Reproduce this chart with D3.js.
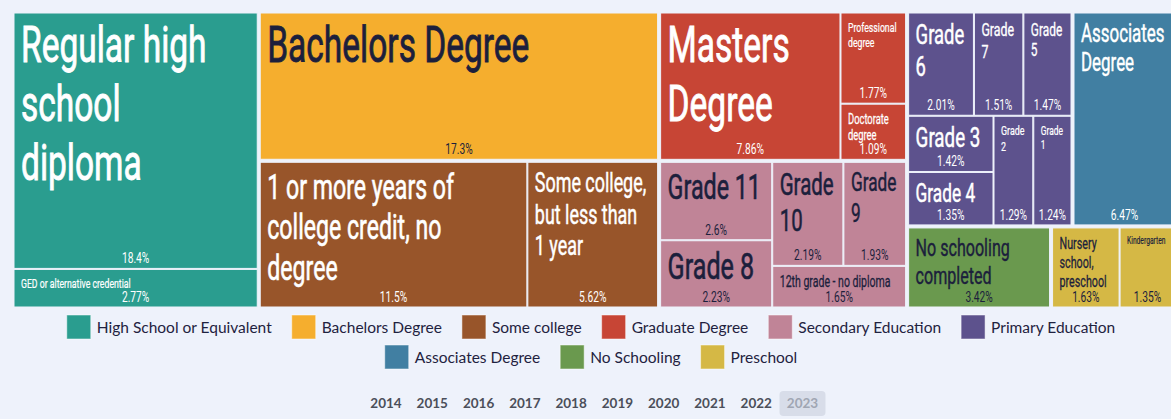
<!DOCTYPE html>
<html>
<head>
<meta charset="utf-8">
<script src="https://cdn.jsdelivr.net/npm/d3@7"></script>
<style>
  html, body { margin: 0; padding: 0; background: #eef2fb; overflow: hidden; }
  svg { display: block; }
</style>
</head>
<body>
<svg id="chart" width="1190" height="419"></svg>
<script>
// Educational attainment, share of population (%), 2023
const groupNames = [
  "High School or Equivalent", "Bachelors Degree", "Some college",
  "Graduate Degree", "Secondary Education", "Primary Education",
  "Associates Degree", "No Schooling", "Preschool"
];
const groupColors = [
  "#2a9d8f", "#f5ae2e", "#98552a",
  "#c74535", "#c08497", "#5d528d",
  "#417fa2", "#6a994e", "#d5b845"
];
const darkTextGroups = ["Bachelors Degree", "Secondary Education", "No Schooling", "Preschool"];

const leafNames = [
  "Regular high school diploma", "GED or alternative credential",
  "Bachelors Degree",
  "1 or more years of college credit, no degree", "Some college, but less than 1 year",
  "Masters Degree", "Professional degree", "Doctorate degree",
  "Grade 11", "Grade 8", "Grade 10", "Grade 9", "12th grade - no diploma",
  "Grade 6", "Grade 7", "Grade 5", "Grade 3", "Grade 4", "Grade 2", "Grade 1",
  "Associates Degree",
  "No schooling completed",
  "Nursery school, preschool", "Kindergarten"
];
const leafGroups = [
  "High School or Equivalent", "High School or Equivalent",
  "Bachelors Degree",
  "Some college", "Some college",
  "Graduate Degree", "Graduate Degree", "Graduate Degree",
  "Secondary Education", "Secondary Education", "Secondary Education", "Secondary Education", "Secondary Education",
  "Primary Education", "Primary Education", "Primary Education", "Primary Education", "Primary Education", "Primary Education", "Primary Education",
  "Associates Degree",
  "No Schooling",
  "Preschool", "Preschool"
];
const leafValues = [
  18.4, 2.77,
  17.3,
  11.5, 5.62,
  7.86, 1.77, 1.09,
  2.6, 2.23, 2.19, 1.93, 1.65,
  2.01, 1.51, 1.47, 1.42, 1.35, 1.29, 1.24,
  6.47,
  3.42,
  1.63, 1.35
];
const years = ["2014", "2015", "2016", "2017", "2018", "2019", "2020", "2021", "2022", "2023"];
const selectedYear = "2023";

// ---- layout constants ----
const BG = "#eef2fb";
const DARK = "#1c1f3c";
const LIGHT = "#ffffff";
const MAP = { x: 14, y: 13, w: 1161, h: 294 };
const LABEL_FONT = "Roboto, 'Liberation Sans', sans-serif";
const SQUEEZE = 0.67;         // horizontal condensing of the label face
const PAD = 7, TOP_PAD = 8, VALUE_SPACE = 14, LH = 1.18, MAX_FS = 50;
const VALUE_FS = 14, VALUE_SQUEEZE = 0.73;

const svg = d3.select("#chart");
const color = d3.scaleOrdinal(groupNames, groupColors);

// hierarchy: root -> group -> leaf
const rows = leafNames.map((n, i) => ({ name: n, group: leafGroups[i], value: leafValues[i] }));
const nested = {
  name: "root",
  children: groupNames.map(g => ({
    name: g,
    children: rows.filter(r => r.group === g)
  }))
};
const root = d3.hierarchy(nested)
  .sum(d => d.value || 0)
  .sort((a, b) => b.value - a.value);

d3.treemap()
  .tile(d3.treemapSquarify)
  .size([MAP.w, MAP.h])
  .paddingInner(d => d.depth === 0 ? 3 : 1)
  .round(false)(root);

const map = svg.append("g").attr("transform", `translate(${MAP.x},${MAP.y})`);

// measuring helper for the condensed label face
const measurer = svg.append("text")
  .attr("font-family", LABEL_FONT)
  .attr("font-size", 100)
  .attr("visibility", "hidden");
function textWidth(str, fs) {
  measurer.text(str);
  return measurer.node().getComputedTextLength() * fs / 100 * SQUEEZE;
}
function wrapWords(words, fs, maxW) {
  const lines = [];
  let cur = "";
  for (const w of words) {
    if (textWidth(w, fs) > maxW) return null;
    const trial = cur ? cur + " " + w : w;
    if (textWidth(trial, fs) <= maxW) cur = trial;
    else { lines.push(cur); cur = w; }
  }
  if (cur) lines.push(cur);
  return lines;
}
// largest font size whose word-wrapped lines fit the cell
function fitLabel(name, w, h) {
  const words = name.split(/\s+/);
  const availW = w * 0.97 - 2 * PAD;
  const availH = h - TOP_PAD - VALUE_SPACE;
  for (let fs = MAX_FS; fs >= 5; fs -= 0.25) {
    const lines = wrapWords(words, fs, availW);
    if (!lines) continue;
    if (lines.length * fs * LH <= availH) return { fs, lines };
  }
  return { fs: 5, lines: [name] };
}

const leaves = root.leaves();
const cell = map.selectAll("g.cell")
  .data(leaves)
  .join("g")
  .attr("class", "cell");

cell.append("rect")
  .attr("x", d => d.x0)
  .attr("y", d => d.y0)
  .attr("width", d => d.x1 - d.x0)
  .attr("height", d => d.y1 - d.y0)
  .attr("fill", d => color(d.data.group))
  .attr("stroke", BG)
  .attr("stroke-width", 1);

const fmt = v => `${v}%`;

cell.each(function (d) {
  const g = d3.select(this);
  const w = d.x1 - d.x0, h = d.y1 - d.y0;
  const txtColor = darkTextGroups.includes(d.data.group) ? DARK : LIGHT;
  const fit = fitLabel(d.data.name, w, h);

  const nameG = g.append("g")
    .attr("transform", `translate(${d.x0 + PAD},${d.y0 + TOP_PAD + fit.fs * 0.82}) scale(${SQUEEZE},1)`);
  nameG.selectAll("text")
    .data(fit.lines)
    .join("text")
    .attr("x", 0)
    .attr("y", (l, i) => i * fit.fs * LH)
    .attr("font-family", LABEL_FONT)
    .attr("font-size", fit.fs)
    .attr("fill", txtColor)
    .attr("stroke", txtColor)
    .attr("stroke-width", Math.min(0.9, fit.fs * 0.018))
    .text(l => l);

  g.append("g")
    .attr("transform", `translate(${(d.x0 + d.x1) / 2},${d.y1 - 5}) scale(${VALUE_SQUEEZE},1)`)
    .append("text")
    .attr("text-anchor", "middle")
    .attr("font-family", LABEL_FONT)
    .attr("font-size", VALUE_FS)
    .attr("fill", txtColor)
    .text(fmt(d.data.value));
});

// ---- legend ----
const LEG_FONT = "Lato, 'Noto Sans', sans-serif";
const LEG_FS = 15.5, SW = 24, SGAP = 6, IGAP = 20, LEG_MAX = 1100, LEG_CX = 591;
const legMeasure = svg.append("text")
  .attr("font-family", LEG_FONT).attr("font-size", LEG_FS).attr("visibility", "hidden");
const items = groupNames.map(n => {
  legMeasure.text(n);
  return { name: n, tw: legMeasure.node().getComputedTextLength() };
});
const legRows = [];
let rowItems = [], rowW = 0;
items.forEach(it => {
  const iw = SW + SGAP + it.tw;
  const add = rowItems.length ? IGAP + iw : iw;
  if (rowW + add > LEG_MAX && rowItems.length) {
    legRows.push({ items: rowItems, w: rowW });
    rowItems = []; rowW = 0;
  }
  it.off = rowItems.length ? rowW + IGAP : 0;
  rowW = it.off + iw;
  rowItems.push(it);
});
legRows.push({ items: rowItems, w: rowW });

const legend = svg.append("g");
legRows.forEach((r, ri) => {
  const x0 = LEG_CX - r.w / 2;
  const yTop = 315 + ri * 30;
  const rg = legend.append("g").attr("transform", `translate(${x0},${yTop})`);
  const it = rg.selectAll("g").data(r.items).join("g")
    .attr("transform", d => `translate(${d.off},0)`);
  it.append("rect")
    .attr("width", SW).attr("height", SW)
    .attr("fill", d => color(d.name))
    .attr("stroke", "rgba(255,255,255,0.5)")
    .attr("stroke-width", 1);
  it.append("text")
    .attr("x", SW + SGAP)
    .attr("y", SW / 2)
    .attr("dy", "0.36em")
    .attr("font-family", LEG_FONT)
    .attr("font-size", LEG_FS)
    .attr("fill", "#1f2240")
    .text(d => d.name);
});

// ---- year selector ----
const yearX = d3.scalePoint(years, [386, 802.5]);
const yearBar = svg.append("g");
const yb = yearBar.selectAll("g").data(years).join("g")
  .attr("transform", d => `translate(${yearX(d)},403)`);
yb.filter(d => d === selectedYear)
  .append("rect")
  .attr("x", -23).attr("y", -12)
  .attr("width", 46).attr("height", 25)
  .attr("rx", 4)
  .attr("fill", "#d8dde9");
yb.append("text")
  .attr("text-anchor", "middle")
  .attr("dy", "0.36em")
  .attr("font-family", "Lato, 'Noto Sans', sans-serif")
  .attr("font-weight", 700)
  .attr("font-size", 13.5)
  .attr("fill", d => d === selectedYear ? "#a0a6b3" : "#4b4f5a")
  .text(d => d);
</script>
</body>
</html>
